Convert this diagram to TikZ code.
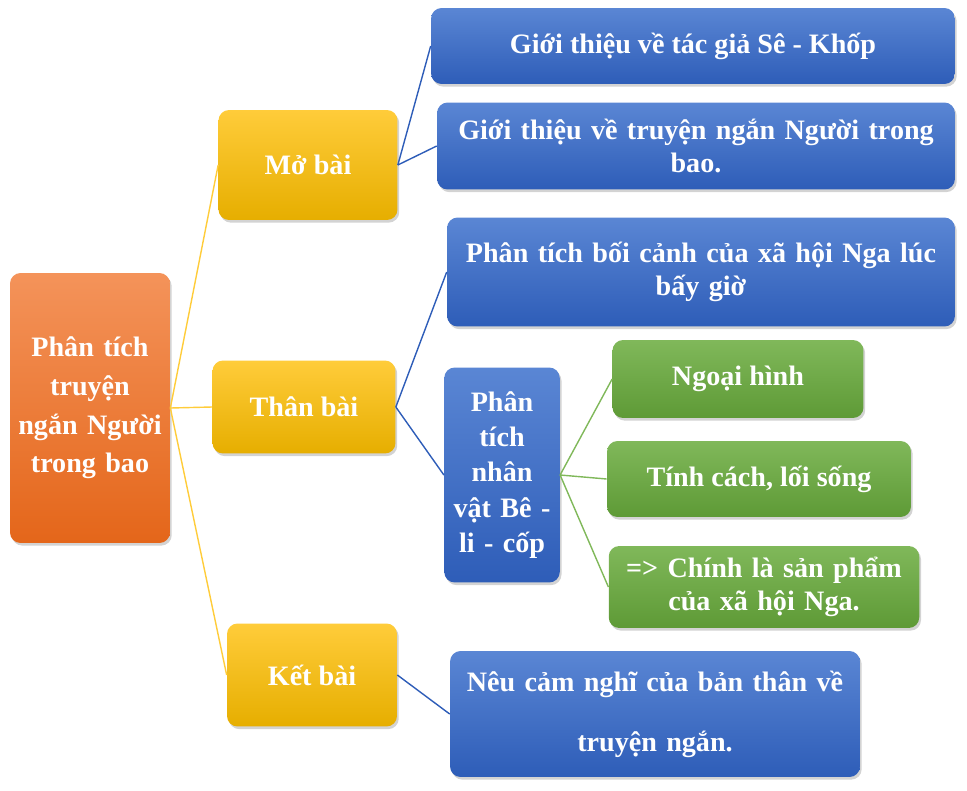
\documentclass[tikz,border=0pt]{standalone}
\usepackage{fontspec}
\setmainfont{Liberation Serif}
\usetikzlibrary{shadows}
\definecolor{orangeA}{HTML}{F4935A}
\definecolor{orangeB}{HTML}{E4661A}
\definecolor{yellowA}{HTML}{FFCC3A}
\definecolor{yellowB}{HTML}{E6AE00}
\definecolor{blueA}{HTML}{5A86D4}
\definecolor{blueB}{HTML}{2E5DB8}
\definecolor{greenA}{HTML}{80B85A}
\definecolor{greenB}{HTML}{5E9A36}
\tikzset{
  box/.style={rounded corners=6pt, align=center, text=white, inner sep=3pt,
    font=\fontsize{16}{19}\selectfont\bfseries,
    drop shadow={shadow xshift=1pt, shadow yshift=-1.5pt, opacity=0.35}},
  orangebox/.style={box, top color=orangeA, bottom color=orangeB},
  yellowbox/.style={box, top color=yellowA, bottom color=yellowB},
  bluebox/.style={box, top color=blueA, bottom color=blueB},
  greenbox/.style={box, top color=greenA, bottom color=greenB},
  yline/.style={draw=yellowA, thick},
  bline/.style={draw=blueB, thick},
  gline/.style={draw=greenA, thick}
}
\begin{document}
\begin{tikzpicture}[x=0.02cm,y=-0.02cm]
  \useasboundingbox (0,0) rectangle (967,791);
  % level 1
  \node[orangebox, minimum width=3.2cm, minimum height=5.4cm, text width=2.9cm,
    font=\fontsize{16}{22}\selectfont\bfseries] (root) at (90,408) {Phân tích\\ truyện\\ ngắn Người\\ trong bao};
  % level 2
  \node[yellowbox, minimum width=3.58cm, minimum height=2.2cm] (mo) at (308,165) {Mở bài};
  \node[yellowbox, minimum width=3.66cm, minimum height=1.86cm] (than) at (304,407) {Thân bài};
  \node[yellowbox, minimum width=3.4cm, minimum height=2.06cm] (ket) at (312,675) {Kết bài};
  % level 3
  \node[bluebox, minimum width=10.48cm, minimum height=1.52cm] (tg) at (693,46) {Giới thiệu về tác giả Sê - Khốp};
  \node[bluebox, minimum width=10.36cm, minimum height=1.74cm, text width=9.8cm] (tr) at (696,146) {Giới thiệu về truyện ngắn Người trong\\ bao.};
  \node[bluebox, minimum width=10.16cm, minimum height=2.18cm, text width=9.8cm] (bc) at (701,272) {Phân tích bối cảnh của xã hội Nga lúc\\ bấy giờ};
  \node[bluebox, minimum width=2.3cm, minimum height=4.3cm, text width=2.1cm,
    font=\fontsize{16}{20}\selectfont\bfseries] (nv) at (502,475) {Phân\\ tích\\ nhân\\ vật Bê -\\ li - cốp};
  \node[bluebox, minimum width=8.2cm, minimum height=2.52cm, text width=7.8cm,
    font=\fontsize{16}{34}\selectfont\bfseries] (cn) at (655,714) {Nêu cảm nghĩ của bản thân về\\ truyện ngắn.};
  % level 4
  \node[greenbox, minimum width=5.02cm, minimum height=1.56cm] (nh) at (738,379) {Ngoại hình};
  \node[greenbox, minimum width=6.08cm, minimum height=1.52cm] (tc) at (759,479) {Tính cách, lối sống};
  \node[greenbox, minimum width=6.2cm, minimum height=1.64cm, text width=6cm] (sp) at (764,587) {=> Chính là sản phẩm\\ của xã hội Nga.};
  % connectors
  \draw[yline] (root.east) -- (mo.west);
  \draw[yline] (root.east) -- (than.west);
  \draw[yline] (root.east) -- (ket.west);
  \draw[bline] (mo.east) -- (tg.west);
  \draw[bline] (mo.east) -- (tr.west);
  \draw[bline] (than.east) -- (bc.west);
  \draw[bline] (than.east) -- (nv.west);
  \draw[bline] (ket.east) -- (cn.west);
  \draw[gline] (nv.east) -- (nh.west);
  \draw[gline] (nv.east) -- (tc.west);
  \draw[gline] (nv.east) -- (sp.west);
\end{tikzpicture}
\end{document}
